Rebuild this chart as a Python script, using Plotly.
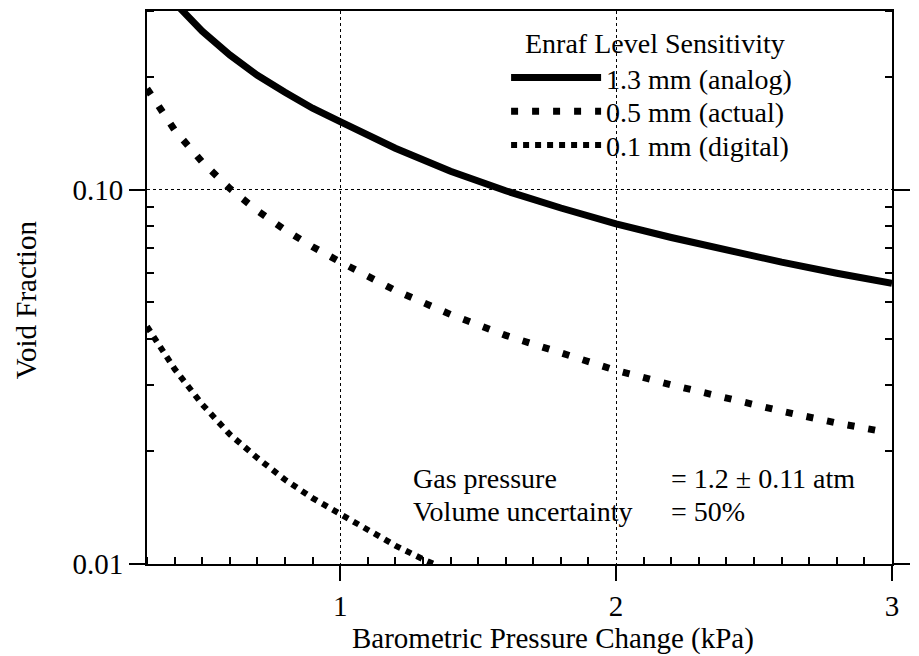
import plotly.graph_objects as go
import math

# ---- data ----
x_analog = [0.40, 0.42, 0.50, 0.60, 0.70, 0.80, 0.90, 1.00, 1.20, 1.40, 1.60, 1.80, 2.00, 2.20, 2.40, 2.60, 2.80, 3.00]
y_analog = [0.316, 0.305, 0.265, 0.229, 0.202, 0.182, 0.165, 0.152, 0.129, 0.112, 0.0993, 0.0893, 0.0810, 0.0745, 0.0687, 0.0640, 0.0598, 0.0562]

x_actual = [0.30, 0.40, 0.50, 0.60, 0.70, 0.80, 0.90, 1.00, 1.20, 1.40, 1.60, 1.80, 2.00, 2.20, 2.40, 2.60, 2.80, 2.95]
y_actual = [0.186, 0.1443, 0.1185, 0.1007, 0.0879, 0.0781, 0.0704, 0.0641, 0.0538, 0.0464, 0.0408, 0.0365, 0.0329, 0.0301, 0.0277, 0.0256, 0.0238, 0.0227]

x_digital = [0.30, 0.40, 0.50, 0.60, 0.70, 0.80, 0.90, 1.00, 1.10, 1.20, 1.30, 1.34]
y_digital = [0.0431, 0.0332, 0.0267, 0.0222, 0.0192, 0.0168, 0.0150, 0.0136, 0.0123, 0.0112, 0.0103, 0.0100]

series_names = ["1.3 mm (analog)", "0.5 mm (actual)", "0.1 mm (digital)"]
legend_title = "Enraf Level Sensitivity"

x_ticks = [1, 2, 3]
x_minor = [round(0.3 + 0.1 * i, 1) for i in range(28)]
x_minor = [v for v in x_minor if v not in (1.0, 2.0, 3.0)]
y_ticks = [0.01, 0.1]
y_ticktext = ["0.01", "0.10"]
y_minor = [0.02, 0.03, 0.04, 0.05, 0.06, 0.07, 0.08, 0.09, 0.2, 0.3]

FONT = "Liberation Serif"
FS = 29      # axis text
FS_IN = 28   # legend / note text

fig = go.Figure()
fig.add_trace(go.Scatter(x=x_analog, y=y_analog, mode="lines", name=series_names[0],
                         legend="legend",
                         line=dict(color="black", width=7)))
fig.add_trace(go.Scatter(x=x_actual, y=y_actual, mode="lines", name=series_names[1],
                         legend="legend2",
                         line=dict(color="black", width=7, dash="7px,14px")))
fig.add_trace(go.Scatter(x=x_digital, y=y_digital, mode="lines", name=series_names[2],
                         legend="legend3",
                         line=dict(color="black", width=6, dash="6px,6px")))

leg_common = dict(x=0.482, xanchor="left", yanchor="middle",
                  bgcolor="rgba(0,0,0,0)", borderwidth=0,
                  itemwidth=90, font=dict(size=FS_IN))

note_font = dict(size=FS_IN)

fig.update_layout(
    width=919, height=656,
    margin=dict(l=147, r=9, t=10, b=92),
    paper_bgcolor="white", plot_bgcolor="white",
    font=dict(family=FONT, size=FS, color="black"),
    showlegend=True,
    legend=dict(y=0.879, **leg_common),
    legend2=dict(y=0.818, **leg_common),
    legend3=dict(y=0.757, **leg_common),
    xaxis=dict(
        range=[0.3, 3.0], tickmode="array", tickvals=x_ticks,
        ticks="outside", ticklen=15, tickwidth=1.5, tickcolor="black",
        ticklabelstandoff=0,
        showline=True, linewidth=2, linecolor="black", mirror=True,
        showgrid=True, gridcolor="black", gridwidth=1, griddash="dot",
        zeroline=False,
        minor=dict(tickmode="array", tickvals=x_minor, ticks="inside", ticklen=7,
                   tickwidth=1.5, tickcolor="black", showgrid=False),
    ),
    yaxis=dict(
        type="log", range=[-2, math.log10(0.3)], tickmode="array",
        tickvals=y_ticks, ticktext=y_ticktext,
        ticks="outside", ticklen=16, tickwidth=1.5, tickcolor="black",
        showline=True, linewidth=2, linecolor="black", mirror="allticks",
        showgrid=True, gridcolor="black", gridwidth=1, griddash="dot",
        zeroline=False,
        minor=dict(tickmode="array", tickvals=y_minor, ticks="inside", ticklen=7,
                   tickwidth=1.5, tickcolor="black", showgrid=False),
    ),
    annotations=[
        dict(text=legend_title, xref="paper", yref="paper", font=note_font,
             x=0.682, y=0.942, xanchor="center", yanchor="middle", showarrow=False),
        dict(text="Barometric Pressure Change (kPa)", xref="paper", yref="paper",
             x=0.545, y=-0.134, xanchor="center", yanchor="middle", showarrow=False),
        dict(text="Void Fraction", xref="paper", yref="paper", textangle=-90,
             x=-0.163, y=0.478, xanchor="center", yanchor="middle", showarrow=False),
        dict(text="Gas pressure", xref="paper", yref="paper", font=note_font,
             x=0.354, y=0.1552, xanchor="left", yanchor="middle", showarrow=False),
        dict(text="= 1.2 ± 0.11 atm", xref="paper", yref="paper", font=note_font,
             x=0.700, y=0.1552, xanchor="left", yanchor="middle", showarrow=False),
        dict(text="Volume uncertainty", xref="paper", yref="paper", font=note_font,
             x=0.354, y=0.0957, xanchor="left", yanchor="middle", showarrow=False),
        dict(text="= 50%", xref="paper", yref="paper", font=note_font,
             x=0.700, y=0.0957, xanchor="left", yanchor="middle", showarrow=False),
    ],
)

fig.write_html("out.html")
